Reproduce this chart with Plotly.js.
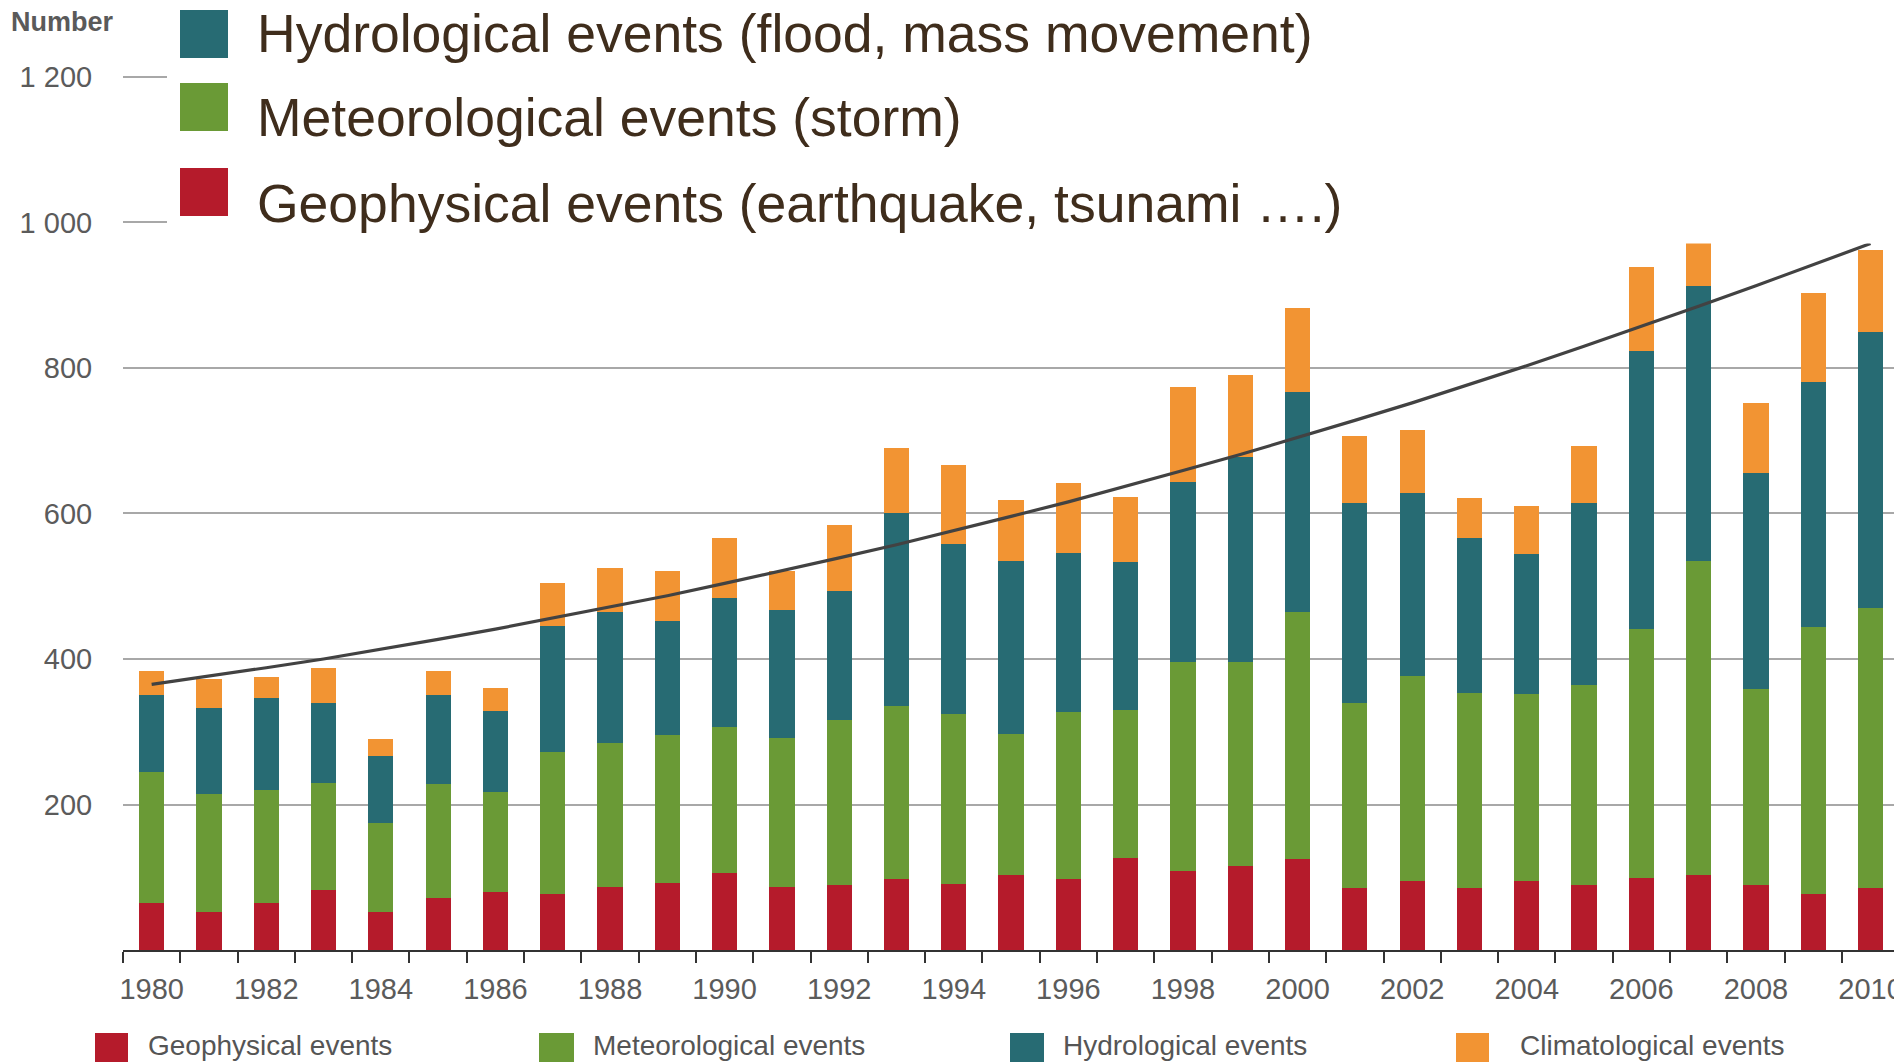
<!DOCTYPE html>
<html>
<head>
<meta charset="utf-8">
<script src="https://cdn.plot.ly/plotly-3.0.1.min.js"></script>
<style>
  html, body { margin: 0; padding: 0; background: #ffffff; }
  #chart { width: 1894px; height: 1062px; }
</style>
</head>
<body>
<div id="chart"></div>
<script>
// ---- Data ----
const years = [1980,1981,1982,1983,1984,1985,1986,1987,1988,1989,1990,1991,1992,1993,1994,1995,
               1996,1997,1998,1999,2000,2001,2002,2003,2004,2005,2006,2007,2008,2009,2010];
const geophysical    = [65,52,64,82,52,72,80,77,86,92,106,86,89,97,91,103,97,127,109,115,125,85,95,85,95,90,99,103,90,77,85];
const meteorological = [180,162,156,148,123,156,137,195,198,203,201,205,227,238,234,194,230,203,287,281,340,255,282,268,257,274,342,432,269,367,385];
const hydrological   = [105,119,127,110,92,122,112,174,180,157,177,176,177,265,233,238,219,203,247,282,302,274,251,213,192,250,382,378,297,337,379];
const climatological = [33,40,28,47,23,33,31,59,61,69,82,54,91,90,108,83,96,90,131,113,116,93,87,55,66,79,116,62,96,122,113];
const trend          = [365,376,388,400,413,427,441,456,471,487,504,521,539,557,576,596,616,637,659,681,704,728,752,777,803,830,857,885,913,942,971];

const xTickVals = [1980,1982,1984,1986,1988,1990,1992,1994,1996,1998,2000,2002,2004,2006,2008,2010];
const xTickText = ["1980","1982","1984","1986","1988","1990","1992","1994","1996","1998","2000","2002","2004","2006","2008","2010"];
const yTickVals = [200,400,600,800,1000,1200];
const yTickText = ["200","400","600","800","1 000","1 200"];

const topLegendLabels = ["Hydrological events (flood, mass movement)",
                         "Meteorological events (storm)",
                         "Geophysical events (earthquake, tsunami ….)"];
const bottomLegendLabels = ["Geophysical events","Meteorological events","Hydrological events","Climatological events"];
const yAxisLabel = "Number";

// ---- Styles ----
const C_GEO = "#b51b2b", C_MET = "#6a9a36", C_HYD = "#276b73", C_CLI = "#f29433";
const FONT = "Liberation Sans, Arial, sans-serif";

// pixel helpers (plot area: left 123, right 1894, top 0, bottom 950)
const L = 123, W = 1771, B = 950, H = 950;
const px = v => (v - L) / W;
const py = v => (B - v) / H;

function bar(name, y, color) {
  return { type: "bar", name: name, x: years, y: y, width: 0.44,
           marker: { color: color, line: { width: 0 } }, hoverinfo: "skip" };
}

const traces = [
  bar("Geophysical events", geophysical, C_GEO),
  bar("Meteorological events", meteorological, C_MET),
  bar("Hydrological events", hydrological, C_HYD),
  bar("Climatological events", climatological, C_CLI),
  { type: "scatter", mode: "lines", x: years, y: trend, name: "Trend",
    line: { color: "#424242", width: 3.2 }, hoverinfo: "skip" }
];

const shapes = [
  // white panel behind the big legend (hides grid lines and tall bars above ~970)
  { type: "rect", layer: "above", xref: "paper", yref: "y",
    x0: px(167), x1: 1.05, y0: 971, y1: 1500, fillcolor: "#ffffff", line: { width: 0 } }
];
const topSquares = [[10, 58, C_HYD], [83, 131, C_MET], [168, 216, C_GEO]];
topSquares.forEach(s => shapes.push({ type: "rect", layer: "above", xref: "paper", yref: "paper",
  x0: px(180), x1: px(228), y0: py(s[1]), y1: py(s[0]), fillcolor: s[2], line: { width: 0 } }));
const botSquares = [[95, 128, C_GEO], [539, 574, C_MET], [1010, 1044, C_HYD], [1456, 1489, C_CLI]];
botSquares.forEach(s => shapes.push({ type: "rect", layer: "above", xref: "paper", yref: "paper",
  x0: px(s[0]), x1: px(s[1]), y0: py(1075), y1: py(1033), fillcolor: s[2], line: { width: 0 } }));

const annotations = [];
const topY = [34, 118, 203];
topLegendLabels.forEach((t, i) => annotations.push({
  xref: "paper", yref: "paper", x: px(255), y: py(topY[i]), xanchor: "left", yanchor: "middle",
  text: t, showarrow: false, font: { family: FONT, size: 53.5, color: "#3f2d1c" } }));
const botX = [146, 591, 1061, 1518];
bottomLegendLabels.forEach((t, i) => annotations.push({
  xref: "paper", yref: "paper", x: px(botX[i]), y: py(1045), xanchor: "left", yanchor: "middle",
  text: t, showarrow: false, font: { family: FONT, size: 28, color: "#555555" } }));
annotations.push({ xref: "paper", yref: "paper", x: px(9), y: py(22), xanchor: "left", yanchor: "middle",
  text: "<b>" + yAxisLabel + "</b>", showarrow: false, font: { family: FONT, size: 27, color: "#5a5a5a" } });

const layout = {
  width: 1894, height: 1062,
  margin: { l: L, r: 0, t: 0, b: 1062 - B, pad: 0 },
  paper_bgcolor: "#ffffff", plot_bgcolor: "#ffffff",
  barmode: "stack", showlegend: false,
  xaxis: {
    range: [1979.5, 2010.41], tickmode: "array", tickvals: xTickVals, ticktext: xTickText,
    ticks: "outside", ticklen: 12, tickcolor: "rgba(0,0,0,0)", ticklabeloverflow: "allow",
    showline: true, linecolor: "#333333", linewidth: 2, showgrid: false, zeroline: false,
    tickfont: { family: FONT, size: 29, color: "#5b5b5b" },
    minor: { tickmode: "linear", tick0: 1979.5, dtick: 1, ticks: "outside", ticklen: 11,
             tickwidth: 2, tickcolor: "#333333", showgrid: false }
  },
  yaxis: {
    range: [0, 1305.8], tickmode: "array", tickvals: yTickVals, ticktext: yTickText,
    ticks: "outside", ticklen: 24, tickcolor: "rgba(0,0,0,0)",
    showline: false, zeroline: false, showgrid: true, gridcolor: "#a8a8a8", gridwidth: 2,
    tickfont: { family: FONT, size: 29, color: "#5b5b5b" }
  },
  shapes: shapes,
  annotations: annotations
};

Plotly.newPlot("chart", traces, layout, { staticPlot: true, displayModeBar: false });
</script>
</body>
</html>
